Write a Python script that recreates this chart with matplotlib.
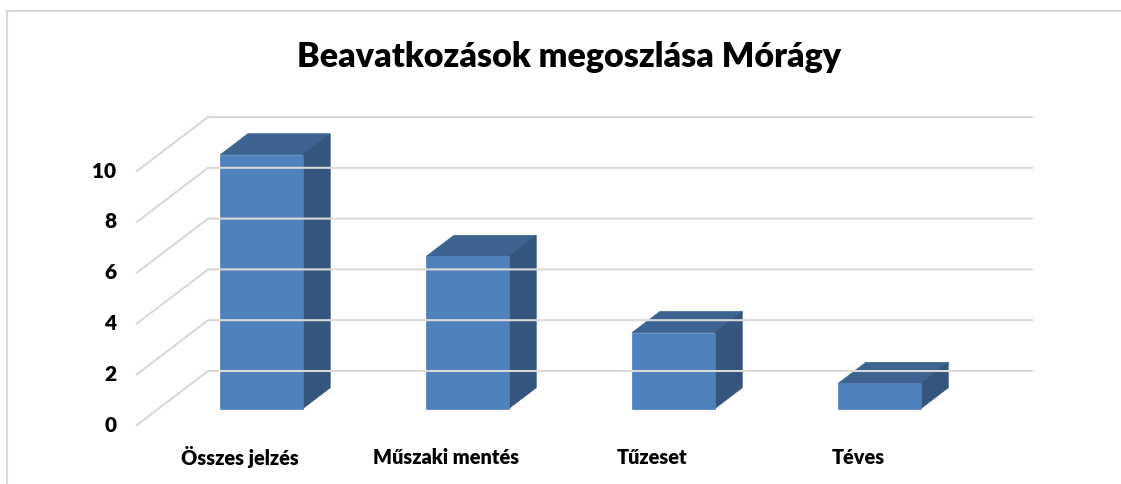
import matplotlib
matplotlib.use("Agg")
import matplotlib.pyplot as plt
from matplotlib.patches import Polygon, Rectangle

# data
categories = ["Összes jelzés", "Műszaki mentés", "Tűzeset", "Téves"]
values = [10, 6, 3, 1]
yticks = [0, 2, 4, 6, 8, 10]
title = "Beavatkozások megoszlása Mórágy"

# 3d look
DX, DY = 0.345, 2.126      # depth of the whole floor (category units, value units)
D0, D1 = 0.30, 0.69        # where the bars sit in the depth
W = 0.40                   # bar width
front_c = "#4F81BD"
side_c = "#34557D"
top_c = "#3D6491"
grid_c = "#D9D9D9"

plt.rcParams['font.family'] = ['Lato', 'DejaVu Sans']

fig = plt.figure(figsize=(11.21, 4.84), dpi=100)
ax = fig.add_axes([0, 0, 1, 1])
ax.set_xlim(-240 / 206, (1121 - 240) / 206)
ax.set_ylim((425 - 484) / 25.4, 425 / 25.4)
ax.axis("off")

# border
fig.patches.append(Rectangle((7 / 1121, -0.01), 1.02, 1 - 11 / 484 + 0.01,
                             transform=fig.transFigure, fill=False,
                             edgecolor="#D9D9D9", lw=1.5))

n = len(categories)
x0, x1 = -0.5, n - 0.5

def P(x, v, d):
    return (x + d * DX, v + d * DY)

# grid: left wall diagonals and back wall lines
for t in yticks:
    a = P(x0, t, 0)
    b = P(x0, t, 1)
    c = P(x1, t, 1)
    ax.plot([a[0], b[0], c[0]], [a[1], b[1], c[1]], color=grid_c, lw=1.5,
            solid_joinstyle="miter")
    ax.text(x0 - 0.1, t, str(t), ha="right", va="center", fontsize=15,
            fontweight="heavy")

# bars
for i, v in enumerate(values):
    l, r = i - W / 2, i + W / 2
    top = [P(l, v, D0), P(r, v, D0), P(r, v, D1), P(l, v, D1)]
    side = [P(r, 0, D0), P(r, 0, D1), P(r, v, D1), P(r, v, D0)]
    front = [P(l, 0, D0), P(r, 0, D0), P(r, v, D0), P(l, v, D0)]
    ax.add_patch(Polygon(top, closed=True, facecolor=top_c, edgecolor=top_c, lw=0.5))
    ax.add_patch(Polygon(side, closed=True, facecolor=side_c, edgecolor=side_c, lw=0.5))
    ax.add_patch(Polygon(front, closed=True, facecolor=front_c, edgecolor=front_c, lw=0.5))
    ax.text(i, -1.26, categories[i], ha="center", va="center",
            fontsize=14.3, fontweight="heavy")

fig.text(569 / 1121, 1 - 57 / 484, title, ha="center", va="center",
         fontsize=24.5, fontweight="heavy")

fig.savefig("out.png", dpi=100)
